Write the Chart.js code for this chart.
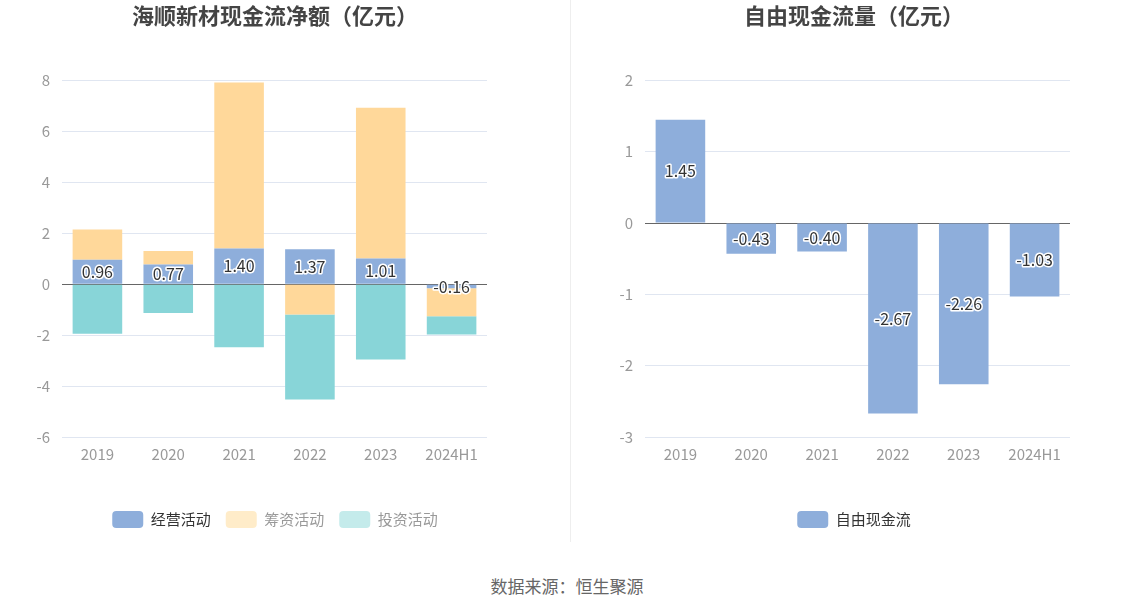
<!DOCTYPE html>
<html>
<head>
<meta charset="utf-8">
<script src="https://cdn.jsdelivr.net/npm/chart.js@4.4.1/dist/chart.umd.min.js"></script>
<style>
  body { margin: 0; background: #fff; font-family: "Noto Sans CJK SC", sans-serif; }
  #wrap { position: relative; width: 1134px; height: 612px; }
  .box { position: absolute; top: 0; height: 542px; }
  #left { left: 0; width: 550px; }
  #right { left: 574px; width: 560px; }
  #divider { position: absolute; left: 570px; top: 0; width: 1px; height: 542px; background: #eee; }
  #source { position: absolute; left: 0; width: 1134px; top: 573px; text-align: center; font-size: 17px; color: #666; }
</style>
</head>
<body>
<div id="wrap">
  <div class="box" id="left"><canvas id="cashChart"></canvas></div>
  <div id="divider"></div>
  <div class="box" id="right"><canvas id="freeChart"></canvas></div>
  <div id="source">数据来源：恒生聚源</div>
</div>
<script>
const years = ['2019', '2020', '2021', '2022', '2023', '2024H1'];
const operating = [0.96, 0.77, 1.40, 1.37, 1.01, -0.16];
const financing = [1.19, 0.53, 6.52, -1.19, 5.92, -1.10];
const investing = [-1.95, -1.13, -2.48, -3.34, -2.96, -0.72];
const freeCash = [1.45, -0.43, -0.40, -2.67, -2.26, -1.03];
const leftTicks = [-6, -4, -2, 0, 2, 4, 6, 8];
const rightTicks = [-3, -2, -1, 0, 1, 2];

const FONT = '"Noto Sans CJK SC", sans-serif';
const blue = '#8eaedb', orange = '#ffd89a', teal = '#88d5d8';

// labels drawn in the bar middle, dark text with a white outline
const barLabels = {
  id: 'barLabels',
  afterDatasetsDraw(chart) {
    const ctx = chart.ctx;
    const meta = chart.getDatasetMeta(0);
    const vals = chart.data.datasets[0].data;
    ctx.save();
    ctx.font = '16px ' + FONT;
    ctx.textAlign = 'center';
    ctx.textBaseline = 'middle';
    ctx.lineJoin = 'round';
    meta.data.forEach((bar, i) => {
      const y = (bar.y + bar.base) / 2;
      const t = vals[i].toFixed(2);
      ctx.lineWidth = 3;
      ctx.strokeStyle = '#fff';
      ctx.strokeText(t, bar.x, y);
      ctx.fillStyle = '#333';
      ctx.fillText(t, bar.x, y);
    });
    ctx.restore();
  }
};

function makeOptions(title, ticks, yWidth, rightWidth, legendItems) {
  return {
    responsive: true,
    maintainAspectRatio: false,
    animation: false,
    layout: { padding: { left: 0, right: 0, top: 0, bottom: 4 } },
    plugins: {
      title: { display: true, text: title, color: '#444', font: { size: 22, weight: 'bold', family: FONT }, padding: { top: 2, bottom: 52 } },
      legend: {
        position: 'bottom',
        labels: {
          boxWidth: 31, boxHeight: 17, useBorderRadius: true, borderRadius: 4,
          font: { size: 15, family: FONT }, padding: 15,
          generateLabels: () => legendItems
        },
        onClick: null
      },
      tooltip: { enabled: false }
    },
    scales: {
      x: {
        stacked: true,
        grid: { display: false, drawTicks: false },
        border: { display: false },
        ticks: { color: '#999', font: { size: 15, family: FONT }, padding: 8 },
        afterFit: s => { s.height = 59; }
      },
      y: {
        stacked: true,
        min: ticks[0], max: ticks[ticks.length - 1],
        afterBuildTicks: s => { s.ticks = ticks.map(v => ({ value: v })); },
        grid: { color: c => c.tick.value === 0 ? '#666' : '#e0e6f1', lineWidth: 1, drawTicks: false },
        border: { display: false },
        ticks: { color: '#999', font: { size: 15, family: FONT }, padding: 12 },
        afterFit: s => { s.width = yWidth; }
      },
      // empty right axis, only keeps room on the right so title/legend stay centred
      yr: {
        position: 'right',
        grid: { display: false },
        border: { display: false },
        ticks: { display: false },
        afterFit: s => { s.width = rightWidth; }
      }
    }
  };
}

function item(text, color, fontColor, i) {
  return { text: text, fillStyle: color, strokeStyle: color, lineWidth: 0, borderRadius: 4, fontColor: fontColor, datasetIndex: i };
}

new Chart(document.getElementById('cashChart'), {
  type: 'bar',
  data: {
    labels: years,
    datasets: [
      { label: '经营活动', data: operating, backgroundColor: blue, categoryPercentage: 0.7, barPercentage: 1 },
      { label: '筹资活动', data: financing, backgroundColor: orange, categoryPercentage: 0.7, barPercentage: 1 },
      { label: '投资活动', data: investing, backgroundColor: teal, categoryPercentage: 0.7, barPercentage: 1 }
    ]
  },
  options: makeOptions('海顺新材现金流净额（亿元）', leftTicks, 62, 63, [
    item('经营活动', blue, '#333', 0),
    item('筹资活动', '#ffecc9', '#999', 1),
    item('投资活动', '#c4ebeb', '#999', 2)
  ]),
  plugins: [barLabels]
});

new Chart(document.getElementById('freeChart'), {
  type: 'bar',
  data: {
    labels: years,
    datasets: [
      { label: '自由现金流', data: freeCash, backgroundColor: blue, categoryPercentage: 0.7, barPercentage: 1 }
    ]
  },
  options: makeOptions('自由现金流量（亿元）', rightTicks, 71, 64, [
    item('自由现金流', blue, '#333', 0)
  ]),
  plugins: [barLabels]
});
</script>
</body>
</html>
